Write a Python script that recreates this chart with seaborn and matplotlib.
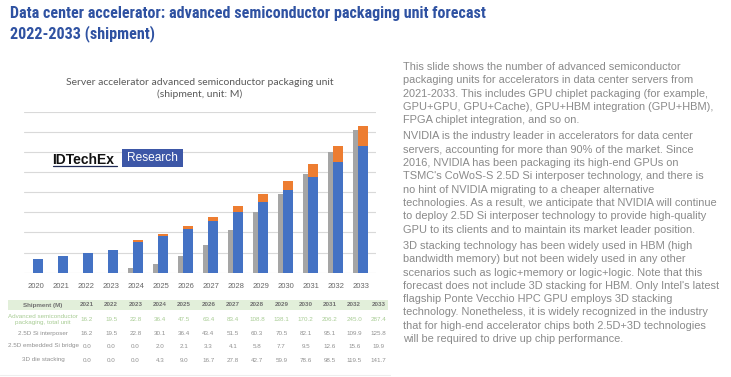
import numpy as np
import pandas as pd
import matplotlib
matplotlib.use("Agg")
import matplotlib.pyplot as plt
import seaborn as sns
from matplotlib import font_manager as fm
from matplotlib.patches import Rectangle
from matplotlib.lines import Line2D

# ---------------- data ----------------
years = [2020, 2021, 2022, 2023, 2024, 2025, 2026, 2027, 2028, 2029, 2030, 2031, 2032, 2033]
si_interposer_25d = [13.2, 16.2, 19.5, 22.8, 30.1, 36.4, 43.4, 51.5, 60.3, 70.5, 82.1, 95.1, 109.9, 125.8]
si_bridge_25d = [0.0, 0.0, 0.0, 0.0, 2.0, 2.1, 3.3, 4.1, 5.8, 7.7, 9.5, 12.6, 15.6, 19.9]
die_stacking_3d = [0.0, 0.0, 0.0, 0.0, 4.3, 9.0, 16.7, 27.8, 42.7, 59.9, 78.6, 98.5, 119.5, 141.7]

table_years = [2021, 2022, 2023, 2024, 2025, 2026, 2027, 2028, 2029, 2030, 2031, 2032, 2033]
table_total = [16.2, 19.5, 22.8, 36.4, 47.5, 63.4, 83.4, 108.8, 138.1, 170.2, 206.2, 245.0, 287.4]

page_title = ["Data center accelerator: advanced semiconductor packaging unit forecast",
              "2022-2033 (shipment)"]
chart_title = ["Server accelerator advanced semiconductor packaging unit",
               "(shipment, unit: M)"]

paragraphs = [
    ["This slide shows the number of advanced semiconductor",
     "packaging units for accelerators in data center servers from",
     "2021-2033. This includes GPU chiplet packaging (for example,",
     "GPU+GPU, GPU+Cache), GPU+HBM integration (GPU+HBM),",
     "FPGA chiplet integration, and so on."],
    ["NVIDIA is the industry leader in accelerators for data center",
     "servers, accounting for more than 90% of the market. Since",
     "2016, NVIDIA has been packaging its high-end GPUs on",
     "TSMC's CoWoS-S 2.5D Si interposer technology, and there is",
     "no hint of NVIDIA migrating to a cheaper alternative",
     "technologies. As a result, we anticipate that NVIDIA will continue",
     "to deploy 2.5D Si interposer technology to provide high-quality",
     "GPU to its clients and to maintain its market leader position."],
    ["3D stacking technology has been widely used in HBM (high",
     "bandwidth memory) but not been widely used in any other",
     "scenarios such as logic+memory or logic+logic. Note that this",
     "forecast does not include 3D stacking for HBM. Only Intel's latest",
     "flagship Ponte Vecchio HPC GPU employs 3D stacking",
     "technology. Nonetheless, it is widely recognized in the industry",
     "that for high-end accelerator chips both 2.5D+3D technologies",
     "will be required to drive up chip performance."],
]

# ---------------- figure ----------------
W, H = 731, 377
sns.set_theme(style="white")
plt.rcParams["font.family"] = ["Liberation Sans", "DejaVu Sans"]
fig = plt.figure(figsize=(W / 100, H / 100), dpi=100)
fig.patch.set_facecolor("white")


def fx(px):
    return px / W


def fy(py):
    return 1 - py / H


# choose a condensed bold face for the slide title if one is installed
entries = fm.fontManager.ttflist
names = {f.name for f in entries}
title_kw = dict(family=["Liberation Sans", "DejaVu Sans"], fontweight="bold")
if "Liberation Sans Narrow" in names:
    title_kw = dict(family=["Liberation Sans Narrow", "DejaVu Sans"], fontweight="bold")
elif any(f.name == "Noto Sans" and "condensed" in str(f.stretch) for f in entries):
    title_kw = dict(family=["Noto Sans", "DejaVu Sans"], fontweight="bold", fontstretch="condensed")
elif "Roboto Condensed" in names:
    title_kw = dict(family=["Roboto Condensed", "DejaVu Sans"], fontweight="bold")
elif "DejaVu Sans Condensed" in names:
    title_kw = dict(family=["DejaVu Sans Condensed"], fontweight="bold")

title_color = "#2F52A2"
title_texts = []
for i, line in enumerate(page_title):
    t = fig.text(fx(10), fy(17.8 + 20 * i), line, color=title_color, fontsize=13.2,
                 va="baseline", ha="left", **title_kw)
    title_texts.append(t)
renderer = fig.canvas.get_renderer()
w0 = title_texts[0].get_window_extent(renderer).width
fs = min(13.2, 13.2 * 478.0 / w0)
for t in title_texts:
    t.set_fontsize(fs)

# chart
ax = fig.add_axes([fx(24), fy(272.7), (376 - 24) / W, (272.7 - 111.7) / H])
yr = np.array(years, dtype=float)
df = pd.DataFrame({
    "gray_x": yr - 0.1,
    "bar_x": yr + 0.1,
    "stack3d": die_stacking_3d,
    "interposer": si_interposer_25d,
    "bridge_top": np.array(si_interposer_25d) + np.array(si_bridge_25d),
})

sns.barplot(data=df, x="gray_x", y="stack3d", native_scale=True, width=0.4, orient="x",
            color="#A5A5A5", saturation=1, errorbar=None, linewidth=0, ax=ax)
sns.barplot(data=df, x="bar_x", y="bridge_top", native_scale=True, width=0.4, orient="x",
            color="#ED7D31", saturation=1, errorbar=None, linewidth=0, ax=ax)
sns.barplot(data=df, x="bar_x", y="interposer", native_scale=True, width=0.4, orient="x",
            color="#4472C4", saturation=1, errorbar=None, linewidth=0, ax=ax)

ax.set_xlim(2020 - 0.47, 2033 + 0.61)
ax.set_ylim(0, 160)
ax.set_yticks(range(0, 161, 20))
ax.set_yticklabels([])
ax.yaxis.grid(True, color="#D9D9D9", linewidth=0.8)
ax.xaxis.grid(False)
ax.set_axisbelow(True)
for s in ax.spines.values():
    s.set_visible(False)
ax.set_xticks(years)
ax.set_xticklabels([str(y) for y in years], fontsize=5.5, color="#666666",
                   family=["Liberation Sans", "DejaVu Sans"])
ax.tick_params(axis="both", length=0)
ax.tick_params(axis="x", pad=7.5)
ax.set_xlabel("")
ax.set_ylabel("")
ax.set_facecolor("white")

# chart title
for i, line in enumerate(chart_title):
    fig.text(fx(200), fy(85 + 12.3 * i), line, color="#5a5a5a", fontsize=7.5,
             family=["Lato", "DejaVu Sans"], ha="center", va="baseline")

# IDTechEx logo
fig.text(fx(52.5), fy(163.5), "IDTechEx", color="#111111", fontsize=10, fontweight="bold",
         ha="left", va="baseline")
fig.add_artist(Line2D([fx(52.7), fx(117.3)], [fy(165.5), fy(165.5)], color="#1F2A55", lw=0.9))
fig.add_artist(Rectangle((fx(121.7), fy(166.7)), (182.7 - 121.7) / W, (166.7 - 149) / H,
                         transform=fig.transFigure, facecolor="#3D57A7", edgecolor="none"))
fig.text(fx(152.2), fy(158), "Research", color="white", fontsize=8.6, ha="center", va="center")

# table
tbl_color = "#909090"
fig.add_artist(Rectangle((fx(8), fy(310)), (388 - 8) / W, 10 / H, transform=fig.transFigure,
                         facecolor="#E2EFDA", edgecolor="none"))
col_x = [87 + 24.3 * i for i in range(len(table_years))]
fig.text(fx(43), fy(305), "Shipment (M)", fontsize=4.5, color="#707070", fontweight="bold",
         ha="center", va="center")
for cx, y in zip(col_x, table_years):
    fig.text(fx(cx), fy(305), str(y), fontsize=4.5, color="#707070", fontweight="bold",
             ha="center", va="center")
fig.text(fx(43), fy(319.5), "Advanced semiconductor\npackaging, total unit", fontsize=4.5,
         color="#A8CC94", ha="center", va="center", linespacing=1.3)
for cx, v in zip(col_x, table_total):
    fig.text(fx(cx), fy(319.5), f"{v:.1f}", fontsize=4.5, color="#A8CC94", ha="center", va="center")
rows = [("2.5D Si interposer", si_interposer_25d[1:], 333.3),
        ("2.5D embedded Si bridge", si_bridge_25d[1:], 346),
        ("3D die stacking", die_stacking_3d[1:], 360)]
for label, vals, yy in rows:
    fig.text(fx(43), fy(yy), label, fontsize=4.5, color=tbl_color, ha="center", va="center")
    for cx, v in zip(col_x, vals):
        fig.text(fx(cx), fy(yy), f"{v:.1f}", fontsize=4.5, color=tbl_color, ha="center", va="center")
fig.add_artist(Line2D([fx(0), fx(390)], [fy(375), fy(375)], color="#EEEEEE", lw=0.8))

# right-hand text
y = 67.0
for pi, para in enumerate(paragraphs):
    for line in para:
        fig.text(fx(403), fy(y), line, fontsize=7.9, color="#8a8a8a", ha="left", va="center")
        y += 13.3
    y += 3.0

fig.savefig("out.png", dpi=100, facecolor="white")
